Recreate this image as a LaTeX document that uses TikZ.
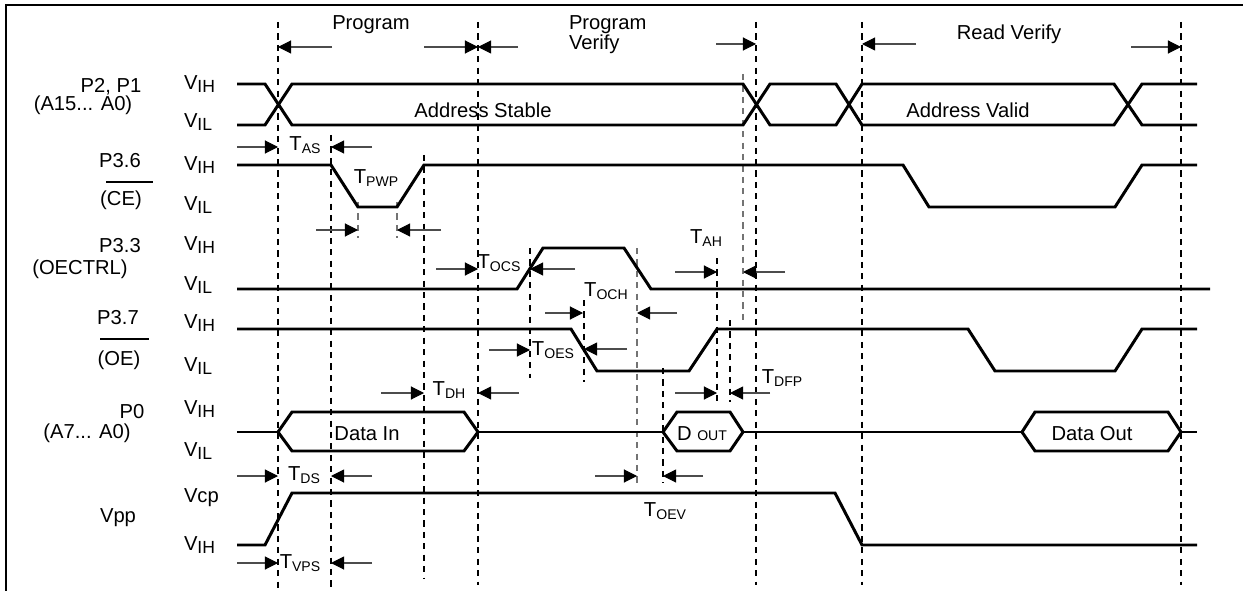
\documentclass[tikz,border=0pt]{standalone}
\usepackage{fontspec}
\setmainfont{Liberation Sans}
\usepackage{tikz}
\usetikzlibrary{arrows.meta}
\newcommand{\lvl}[1]{\raisebox{-2pt}{\fontsize{10}{10}\selectfont #1}}
\newcommand{\tsub}[1]{\raisebox{-1.5pt}{\fontsize{8}{8}\selectfont #1}}

\begin{document}
\begin{tikzpicture}[x=0.02cm, y=-0.02cm,
  signode/.style={inner sep=0pt, outer sep=0pt, font=\fontsize{11.5}{11.5}\selectfont},
  levelnode/.style={inner sep=0pt, outer sep=0pt, anchor=west, font=\fontsize{11.5}{11.5}\selectfont},
  timenode/.style={inner sep=0pt, outer sep=0pt, font=\fontsize{11.5}{11.5}\selectfont},
  wave/.style={line width=1.7pt, line join=miter},
  guide/.style={line width=0.6pt, dash pattern=on 3.5pt off 3pt},
  guidegray/.style={guide, draw=black!55},
  tarrow/.style={line width=0.6pt, draw=black!70, -{Triangle[length=7.5pt, width=7.5pt, black]}}
  ]
  \useasboundingbox (0,0) rectangle (1243,591);

  % Frame
  \draw[line width=1.4pt] (6,591) -- (6,5) -- (1243,5);

  % Signal names
  \node[signode]    (p21)       at (111,87)    {P2, P1};
  \node[signode]    (a15)       at (83,105)    {(A15... A0)};
  \node[signode]    (p36)       at (120,161)   {P3.6};
  \node[signode]    (ce)        at (121,200)   {(CE)};
  \node[signode]    (p33)       at (120,246)   {P3.3};
  \node[signode]    (oectrl)    at (80,269)    {(OECTRL)};
  \node[signode]    (p37)       at (118,318)   {P3.7};
  \node[signode]    (oe)        at (119,360)   {(OE)};
  \node[signode]    (p0)        at (132,412)   {P0};
  \node[signode]    (a7)        at (87,433)    {(A7... A0)};
  \node[signode]    (vpp)       at (118,518)   {Vpp};
  \draw[line width=0.8pt] (106,182) -- (153,182);
  \draw[line width=0.8pt] (100,339) -- (149,339);

  % Levels
  \node[levelnode]  (vih1)      at (184,84)    {V\lvl{IH}};
  \node[levelnode]  (vil1)      at (184,122)   {V\lvl{IL}};
  \node[levelnode]  (vih2)      at (184,165)   {V\lvl{IH}};
  \node[levelnode]  (vil2)      at (184,205)   {V\lvl{IL}};
  \node[levelnode]  (vih3)      at (184,245)   {V\lvl{IH}};
  \node[levelnode]  (vil3)      at (184,285)   {V\lvl{IL}};
  \node[levelnode]  (vih4)      at (184,323)   {V\lvl{IH}};
  \node[levelnode]  (vil4)      at (184,366)   {V\lvl{IL}};
  \node[levelnode]  (vih5)      at (184,409)   {V\lvl{IH}};
  \node[levelnode]  (vil5)      at (184,451)   {V\lvl{IL}};
  \node[levelnode]  (vcp6)      at (184,498)   {Vcp};
  \node[levelnode]  (vih6)      at (184,545)   {V\lvl{IH}};

  % Guide lines
  \draw[guide]     (278,22)  -- (278,591);
  \draw[guide]     (331,135) -- (331,591);
  \draw[guidegray] (358,202) -- (358,238);
  \draw[guidegray] (397,202) -- (397,238);
  \draw[guide]     (424,155) -- (424,578);
  \draw[guide]     (478,22)  -- (478,585);
  \draw[guide]     (530,248) -- (530,378);
  \draw[guide]     (584,300) -- (584,382);
  \draw[guidegray] (637,248) -- (637,485);
  \draw[guide]     (663,368) -- (663,483);
  \draw[guide]     (717,258) -- (717,402);
  \draw[guide]     (730,320) -- (730,402);
  \draw[guidegray] (743,74)  -- (743,320);
  \draw[guide]     (756,22)  -- (756,585);
  \draw[guide]     (862,22)  -- (862,585);
  \draw[guide]     (1181,22) -- (1181,585);

  % Waveforms
  \draw[wave] (237,84) -- (265,84) -- (292,125) -- (743,125) -- (770,84) -- (836,84) -- (862,125) -- (1114,125) -- (1142,84) -- (1197,84);
  \draw[wave] (237,125) -- (265,125) -- (292,84) -- (743,84) -- (770,125) -- (836,125) -- (862,84) -- (1114,84) -- (1142,125) -- (1197,125);
  \draw[wave] (237,165) -- (331,165) -- (358,207) -- (397,207) -- (424,165) -- (903,165) -- (929,207) -- (1115,207) -- (1142,165) -- (1197,165);
  \draw[wave] (237,289) -- (517,289) -- (543,248) -- (624,248) -- (651,289) -- (1210,289);
  \draw[wave] (237,329) -- (571,329) -- (597,371) -- (689,371) -- (717,329) -- (968,329) -- (995,371) -- (1115,371) -- (1142,329) -- (1197,329);
  \draw[wave] (237,432) -- (278,432);
  \draw[wave] (278,432) -- (292,412) -- (464,412) -- (478,432) -- (464,451) -- (292,451) -- cycle;
  \draw[wave] (478,432) -- (663,432);
  \draw[wave] (663,432) -- (677,412) -- (730,412) -- (743,432) -- (730,451) -- (677,451) -- cycle;
  \draw[wave] (743,432) -- (1022,432);
  \draw[wave] (1022,432) -- (1035,412) -- (1168,412) -- (1181,432) -- (1168,451) -- (1035,451) -- cycle;
  \draw[wave] (1181,432) -- (1197,432);
  \draw[wave] (237,545) -- (265,545) -- (292,493) -- (835,493) -- (862,545) -- (1197,545);

  % Waveform texts
  \node[signode]    (addrstable)  at (483,110)   {Address Stable};
  \node[signode]    (addrvalid)   at (968,110)   {Address Valid};
  \node[signode]    (datain)      at (367,434)   {Data In};
  \node[signode]    (dout)        at (702,434)   {D {\fontsize{8}{8}\selectfont OUT}};
  \node[signode]    (dataout)     at (1092,434)  {Data Out};

  % Phases
  \node[signode]    (program)     at (371,25)    {Program};
  \node[signode, align=left, anchor=west] (progverify) at (569,35) {Program\\Verify};
  \node[signode]    (readverify)  at (1009,34)   {Read Verify};
  \draw[tarrow] (332,47) -- (278,47);
  \draw[tarrow] (424,47) -- (478,47);
  \draw[tarrow] (518,47) -- (478,47);
  \draw[tarrow] (716,44) -- (756,44);
  \draw[tarrow] (916,44) -- (862,44);
  \draw[tarrow] (1131,47) -- (1181,47);

  % Timing labels
  \node[timenode]   (tas)   at (305,145)   {T\tsub{AS}};
  \node[timenode]   (tpwp)  at (376,178)   {T\tsub{PWP}};
  \node[timenode]   (tocs)  at (499,263)   {T\tsub{OCS}};
  \node[timenode]   (toch)  at (606,291)   {T\tsub{OCH}};
  \node[timenode]   (tah)   at (706,238)   {T\tsub{AH}};
  \node[timenode]   (toes)  at (553,350)   {T\tsub{OES}};
  \node[timenode]   (tdfp)  at (782,378)   {T\tsub{DFP}};
  \node[timenode]   (tdh)   at (449,390)   {T\tsub{DH}};
  \node[timenode]   (tds)   at (304,475)   {T\tsub{DS}};
  \node[timenode]   (toev)  at (665,511)   {T\tsub{OEV}};
  \node[timenode]   (tvps)  at (300,563)   {T\tsub{VPS}};

  % Timing arrows
  \draw[tarrow] (237,147) -- (278,147);
  \draw[tarrow] (372,147) -- (331,147);
  \draw[tarrow] (316,230) -- (358,230);
  \draw[tarrow] (441,230) -- (397,230);
  \draw[tarrow] (436,269) -- (478,269);
  \draw[tarrow] (575,269) -- (530,269);
  \draw[tarrow] (545,313) -- (583,313);
  \draw[tarrow] (677,313) -- (637,313);
  \draw[tarrow] (675,272) -- (717,272);
  \draw[tarrow] (785,272) -- (743,272);
  \draw[tarrow] (489,350) -- (530,350);
  \draw[tarrow] (627,349) -- (584,349);
  \draw[tarrow] (381,393) -- (424,393);
  \draw[tarrow] (519,393) -- (478,393);
  \draw[tarrow] (675,393) -- (717,393);
  \draw[tarrow] (770,393) -- (730,393);
  \draw[tarrow] (237,476) -- (278,476);
  \draw[tarrow] (372,476) -- (331,476);
  \draw[tarrow] (595,476) -- (637,476);
  \draw[tarrow] (703,476) -- (663,476);
  \draw[tarrow] (237,563) -- (278,563);
  \draw[tarrow] (372,563) -- (331,563);

\end{tikzpicture}
\end{document}
